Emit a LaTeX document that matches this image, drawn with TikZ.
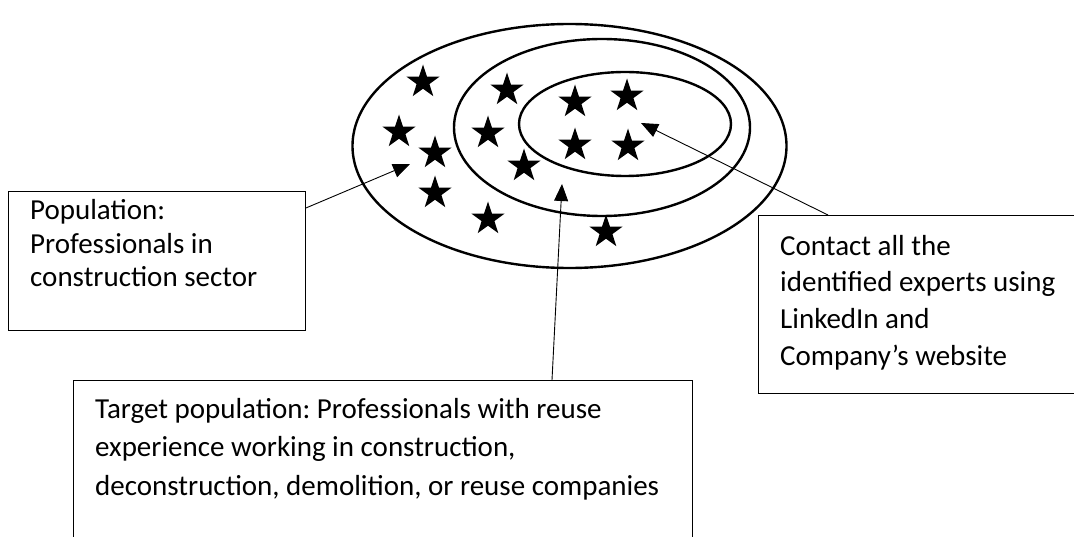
\documentclass[tikz,border=0pt]{standalone}
\usepackage{fontspec}
\setmainfont{Carlito}
\usetikzlibrary{shapes.geometric, arrows.meta}
\frenchspacing

\begin{document}
\begin{tikzpicture}[x=1pt, y=-1pt,
    ring/.style={line width=2.4pt},
    spot/.style={star, star points=5, star point ratio=2.6, fill=black, inner sep=0pt, minimum size=35pt},
    box/.style={draw, line width=0.9pt, rectangle, anchor=north west, inner sep=0pt},
    note/.style={anchor=base west, align=left, inner sep=0pt, font=\fontsize{29}{#1}\selectfont},
    pointer/.style={line width=0.9pt, -{Triangle[length=17pt, width=14pt]}}]

        \clip (0,0) rectangle (1074,537);

        % the three nested groups
        \draw[ring] (569.5,146) ellipse [x radius=217, y radius=122];
        \draw[ring] (602,127.5) ellipse [x radius=148, y radius=88.5];
        \draw[ring] (625,124) ellipse [x radius=106, y radius=52];

        \foreach \px/\py [count=\i] in {423/82, 507/90, 575/102, 627/96, 399/132, 488/133, 575/145,
                628/146, 435/153, 524/166, 435/193, 488/219, 606/232}
            \node[spot] (s_\i) at (\px,\py) {};

        % boxes
        \node[box, minimum width=297pt, minimum height=139pt] (pop_box) at (8,191) {};
        \node[box, minimum width=340pt, minimum height=178pt] (cnt_box) at (758,215) {};
        \node[box, minimum width=619pt, minimum height=200pt] (tgt_box) at (73,380) {};

        % texts, placed by their last baseline
        \node[note=33.5] (pop_txt) at (30,287) {Population:\\Professionals in\\construction sector};
        \node[note=37] (cnt_txt) at (780,366) {Contact all the\\identified experts using\\LinkedIn and\\Company’s website};
        \node[note=38.5] (tgt_txt) at (95,495) {Target population: Professionals with reuse\\experience working in construction,\\deconstruction, demolition, or reuse companies};

        \coordinate (pop_tip) at (410,164);
        \coordinate (tgt_tip) at (562,184);
        \coordinate (cnt_tip) at (641,123);

        \draw[pointer] ([yshift=-17pt]pop_box.north east) -- (pop_tip);
        \draw[pointer] ([xshift=479pt]tgt_box.north west) -- (tgt_tip);
        \draw[pointer] ([xshift=70pt]cnt_box.north west) -- (cnt_tip);
    \end{tikzpicture}
\end{document}
